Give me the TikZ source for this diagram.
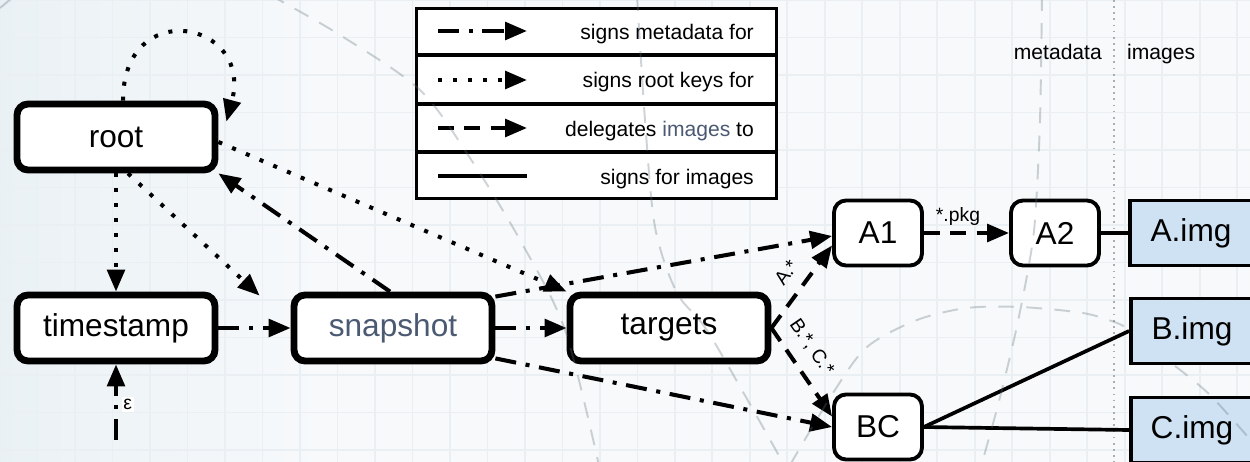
\documentclass[tikz,border=0pt]{standalone}
\usepackage{fontspec}
\setmainfont{Liberation Sans}
\usetikzlibrary{arrows.meta}
\definecolor{imgblue}{HTML}{CFE2F3}
\definecolor{slate}{HTML}{4B5A72}
\definecolor{bgc}{HTML}{F7F9FB}
\definecolor{bgleft}{HTML}{EAF1F5}
\definecolor{gridc}{HTML}{E9EFF3}
\definecolor{arcc}{HTML}{5C6E78}
\definecolor{sepc}{HTML}{A8AFB4}
\newcommand{\nodefont}{\fontsize{18}{21}\selectfont}
\newcommand{\legfont}{\fontsize{12}{14}\selectfont}
\newcommand{\labfont}{\fontsize{11}{13}\selectfont}
\begin{document}
\begin{tikzpicture}[x=0.02cm,y=-0.02cm,
  tip/.style={-{Triangle[length=12.5pt,width=10pt]}},
  meta/.style={tip, line width=2.3pt, dash pattern=on 12pt off 5.5pt on 2.3pt off 5.5pt},
  rootkey/.style={tip, line width=2.3pt, dash pattern=on 2.3pt off 6.2pt},
  deleg/.style={tip, line width=2.3pt, dash pattern=on 9pt off 6pt},
  imgsig/.style={line width=2.1pt},
  role/.style={draw, line width=3.9pt, rounded corners=0.22cm, fill=white,
    minimum width=3.96cm, minimum height=1.32cm, inner sep=0pt, font=\nodefont},
  deleg role/.style={draw, line width=2.2pt, rounded corners=0.24cm, fill=white,
    minimum width=1.76cm, minimum height=1.3cm, inner sep=0pt, font=\nodefont},
  image/.style={draw, line width=2.2pt, fill=imgblue,
    minimum width=2.44cm, minimum height=1.3cm, inner sep=0pt, font=\nodefont},
  lab/.style={font=\labfont, inner sep=1pt},
  faint/.style={arcc, draw opacity=0.3, line width=1.1pt, dash pattern=on 9pt off 7pt}]

\useasboundingbox (0,0) rectangle (1250,462);

% backdrop: pale grid, a little bluer towards the left edge
\fill[bgc] (0,0) rectangle (1250,462);
\fill[left color=bgleft, right color=bgc] (0,0) rectangle (320,462);
\draw[gridc, line width=1pt] (0,0) grid[step=0.75cm] (1250,462);

% metadata / images divider
\draw[sepc, line width=1pt, dash pattern=on 1pt off 2.5pt] (1114,0) -- (1114,462);
\node[font=\legfont, anchor=base east] (mdlabel) at (1108,60) {metadata};
\node[font=\legfont, anchor=base west] (imlabel) at (1121,60) {images};

% legend
\draw[line width=2pt, fill=white] (416.5,8.5) rectangle (776.5,198.5);
\draw[line width=2pt] (416.5,55) -- (776.5,55) (416.5,104) -- (776.5,104) (416.5,152) -- (776.5,152);
\coordinate (l1a) at (438,31);  \coordinate (l1b) at (527,31);
\coordinate (l2a) at (438,80);  \coordinate (l2b) at (527,80);
\coordinate (l3a) at (438,128); \coordinate (l3b) at (527,128);
\coordinate (l4a) at (438,176); \coordinate (l4b) at (527,176);
\draw[meta] (l1a) -- (l1b);
\draw[rootkey] (l2a) -- (l2b);
\draw[deleg] (l3a) -- (l3b);
\draw[imgsig] (l4a) -- (l4b);
\node[font=\legfont, anchor=base east] (lt1) at (760,39.5) {signs metadata for};
\node[font=\legfont, anchor=base east] (lt2) at (760,88) {signs root keys for};
\node[font=\legfont, anchor=base east] (lt3) at (760,136.5) {delegates \textcolor{slate}{images} to};
\node[font=\legfont, anchor=base east] (lt4) at (760,184.5) {signs for images};

% roles
\node[role] (root) at (116,137) {root};
\node[role] (timestamp) at (116,328) {timestamp};
\node[role, text=slate] (snapshot) at (393,328) {snapshot};
\node[role] (targets) at (669,328) {targets};
\node[deleg role] (A1) at (878,233) {A1};
\node[deleg role] (A2) at (1055,233) {A2};
\node[deleg role] (BC) at (878,427) {BC};
\node[image] (Aimg) at (1191,233) {A.img};
\node[image] (Bimg) at (1192,331) {B.img};
\node[image] (Cimg) at (1192,430) {C.img};
\coordinate (epsstart) at (116,440);

% root keys
\draw[rootkey] ([xshift=0.14cm]root.north) .. controls +(90:2.1cm) and +(75:2.1cm) .. ([shift={(0.16cm,-0.42cm)}]root.north east);
\draw[rootkey] (root.south) -- (timestamp.north);
\draw[rootkey] ([xshift=0.24cm]root.south) -- ([shift={(-0.62cm,-0.08cm)}]snapshot.north west);
\draw[rootkey] ([yshift=-0.1cm]root.east) -- (targets.north west);

% metadata signatures
\draw[meta] (epsstart) -- node[lab, right=2pt, fill=white, pos=0.47] {ε} (timestamp.south);
\draw[meta] (timestamp.east) -- (snapshot.west);
\draw[meta] ([xshift=-0.06cm]snapshot.north) -- (root.south east);
\draw[meta] (snapshot.east) -- (targets.west);
\draw[meta] ([yshift=-0.1cm]snapshot.north east) -- ([yshift=-0.06cm]A1.west);
\draw[meta] ([yshift=0.12cm]snapshot.south east) -- (BC.west);

% delegations
\draw[deleg] (targets.east) -- node[lab, sloped, above=6pt, pos=0.52] {A.*} ([yshift=0.44cm]A1.south west);
\draw[deleg] (targets.east) -- node[lab, sloped, above=6pt, pos=0.36] {B.*, C.*} ([yshift=-0.48cm]BC.north west);
\draw[deleg] (A1.east) -- node[lab, above=2pt, pos=0.4] {*.pkg} (A2.west);

% image signatures
\draw[imgsig] (A2.east) -- (Aimg.west);
\draw[imgsig] (BC.east) -- (Bimg.west);
\draw[imgsig] (BC.east) -- (Cimg.west);

% faint dashed arcs laid over the whole drawing
\draw[faint] plot[smooth] coordinates {(270,-5) (340,35) (420,90) (470,158) (520,240) (565,330) (600,470)};
\draw[faint] plot[smooth] coordinates {(637,-5) (645,120) (655,227) (677,293) (710,335) (787,470)};
\draw[faint] plot[smooth] coordinates {(790,465) (833,393) (867,347) (917,320) (967,308) (1020,307) (1083,313) (1117,323) (1130,330)};
\draw[faint] plot[smooth] coordinates {(1175,366) (1210,395) (1255,445)};
\draw[faint] plot[smooth] coordinates {(1042,-5) (1040,120) (1035,220) (1028,270) (1015,335) (998,405) (980,470)};
\draw[faint] (0,8) -- (12,-2);
\end{tikzpicture}
\end{document}
